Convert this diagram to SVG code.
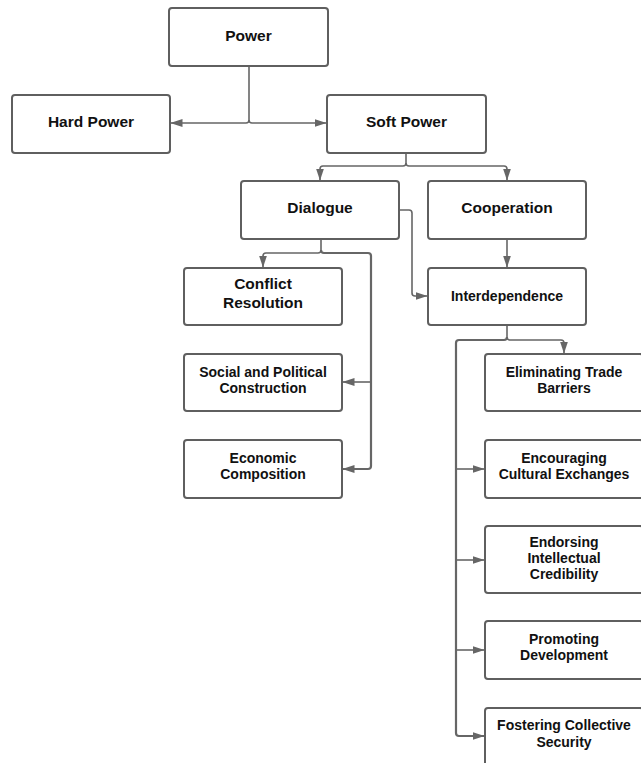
<svg xmlns="http://www.w3.org/2000/svg" width="641" height="763" viewBox="0 0 641 763">
<defs>
<marker id="ah" markerUnits="userSpaceOnUse" markerWidth="12" markerHeight="10" viewBox="0 0 12 10" refX="11.5" refY="5" orient="auto">
<path d="M0,1 L12,5 L0,9 Z" fill="#666"/>
</marker>
<style>
.box{fill:#fff;stroke:#5f5f5f;stroke-width:2}
.t{font-family:"Liberation Sans",Arial,sans-serif;font-weight:bold;fill:#111;text-anchor:middle}
.l{font-size:15.5px}
.s{font-size:14px}
.c{fill:none;stroke:#666;stroke-width:1.6;stroke-linejoin:round}
.k{stroke-width:2.2}
</style>
</defs>
<rect width="641" height="763" fill="#fff"/>
<g id="connectors">
<path class="c" d="M249,66 V120 Q249,123 246,123 H171" marker-end="url(#ah)"/>
<path class="c" d="M249,120 Q249,123 252,123 H326" marker-end="url(#ah)"/>
<path class="c" d="M406,153 V163 Q406,166 403,166 H323 Q320,166 320,169 V180" marker-end="url(#ah)"/>
<path class="c" d="M406,163 Q406,166 409,166 H504 Q507,166 507,169 V180" marker-end="url(#ah)"/>
<path class="c" d="M399,210 H409 Q412,210 412,213 V293 Q412,296 415,296 H427" marker-end="url(#ah)"/>
<path class="c" d="M321,239 V250 Q321,253 318,253 H266 Q263,253 263,256 V267" marker-end="url(#ah)"/>
<path class="c k" d="M321,250 Q321,253 324,253 H368 Q371,253 371,256 V466 Q371,469 368,469 H343" marker-end="url(#ah)"/>
<path class="c" d="M371,382 H343" marker-end="url(#ah)"/>
<path class="c" d="M507,239 V267" marker-end="url(#ah)"/>
<path class="c" d="M507,325 V337 Q507,340 510,340 H561 Q564,340 564,343 V353" marker-end="url(#ah)"/>
<path class="c k" d="M507,337 Q507,340 504,340 H459 Q456,340 456,343 V733 Q456,736 459,736 H484" marker-end="url(#ah)"/>
<path class="c" d="M456,469 H484" marker-end="url(#ah)"/>
<path class="c" d="M456,560 H484" marker-end="url(#ah)"/>
<path class="c" d="M456,650 H484" marker-end="url(#ah)"/>
</g>
<g id="power"><rect class="box" x="169" y="8" width="159" height="58" rx="3"/><text class="t l" x="248.5" y="41">Power</text></g>
<g id="hard-power"><rect class="box" x="12" y="95" width="158" height="58" rx="3"/><text class="t l" x="91" y="127">Hard Power</text></g>
<g id="soft-power"><rect class="box" x="327" y="95" width="159" height="58" rx="3"/><text class="t l" x="406.5" y="127">Soft Power</text></g>
<g id="dialogue"><rect class="box" x="241" y="181" width="158" height="58" rx="3"/><text class="t l" x="320" y="213">Dialogue</text></g>
<g id="cooperation"><rect class="box" x="428" y="181" width="158" height="58" rx="3"/><text class="t l" x="507" y="213">Cooperation</text></g>
<g id="conflict-resolution"><rect class="box" x="184" y="268" width="158" height="57" rx="3"/><text class="t l" x="263" y="289">Conflict</text><text class="t l" x="263" y="308">Resolution</text></g>
<g id="interdependence"><rect class="box" x="428" y="268" width="158" height="57" rx="3"/><text class="t s" x="507" y="301">Interdependence</text></g>
<g id="social-political"><rect class="box" x="184" y="354" width="158" height="57" rx="3"/><text class="t s" x="263" y="377">Social and Political</text><text class="t s" x="263" y="393">Construction</text></g>
<g id="economic"><rect class="box" x="184" y="440" width="158" height="58" rx="3"/><text class="t s" x="263" y="463">Economic</text><text class="t s" x="263" y="479">Composition</text></g>
<g id="eliminating"><rect class="box" x="485" y="354" width="158" height="57" rx="3"/><text class="t s" x="564" y="377">Eliminating Trade</text><text class="t s" x="564" y="393">Barriers</text></g>
<g id="encouraging"><rect class="box" x="485" y="440" width="158" height="58" rx="3"/><text class="t s" x="564" y="463">Encouraging</text><text class="t s" x="564" y="479">Cultural Exchanges</text></g>
<g id="endorsing"><rect class="box" x="485" y="526" width="158" height="67" rx="3"/><text class="t s" x="564" y="547">Endorsing</text><text class="t s" x="564" y="563">Intellectual</text><text class="t s" x="564" y="579">Credibility</text></g>
<g id="promoting"><rect class="box" x="485" y="621" width="158" height="58" rx="3"/><text class="t s" x="564" y="644">Promoting</text><text class="t s" x="564" y="660">Development</text></g>
<g id="fostering"><rect class="box" x="485" y="708" width="158" height="62" rx="3"/><text class="t s" x="564" y="730">Fostering Collective</text><text class="t s" x="564" y="747">Security</text></g>
</svg>
